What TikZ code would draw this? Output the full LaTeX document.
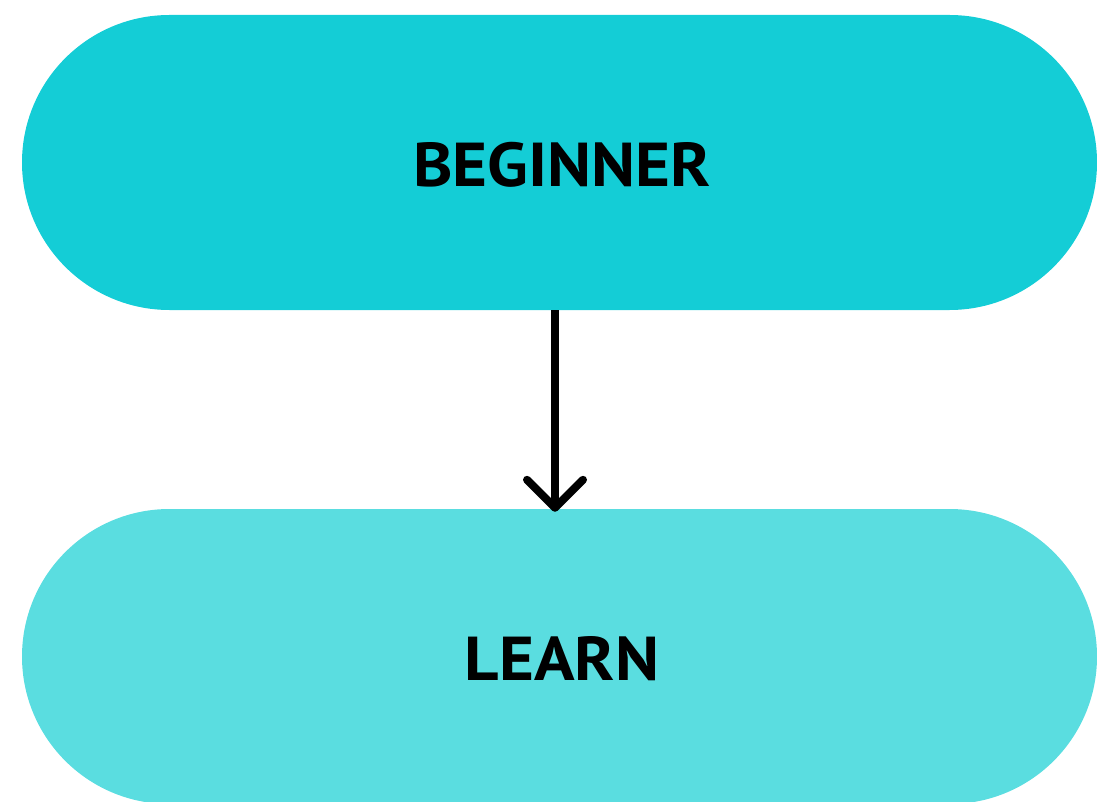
\documentclass[tikz,border=0pt]{standalone}
\usepackage{fontspec}
\setmainfont{PT Sans}
\usetikzlibrary{arrows.meta,positioning}
\definecolor{tealtop}{RGB}{20,205,214}
\definecolor{tealbot}{RGB}{90,221,224}

\begin{document}
\begin{tikzpicture}[x=1pt,y=-1pt,
    pill/.style={rectangle,rounded corners=147.5pt,minimum width=1075pt,minimum height=295pt,
                 inner sep=0pt,font=\fontsize{62}{62}\selectfont\bfseries,text depth=0pt},
    flow/.style={line width=8pt,
                 -{Straight Barb[length=28pt,width=56pt,line cap=round,line join=round]}}]
    \useasboundingbox (0,0) rectangle (1097,802);
    \clip (0,0) rectangle (1097,802);
    \node[pill,fill=tealtop] (beginner) at (559.5,162.5) {\hspace{5pt}\raisebox{-4pt}{\scalebox{1.08}[1]{BEGINNER}}} ;
    \node[pill,fill=tealbot] (learn) at (559.5,656.5) {\hspace{5pt}\raisebox{-4pt}{\scalebox{1.08}[1]{LEARN}}} ;
    \draw[flow] ([xshift=-4.5pt]beginner.south) -- ([xshift=-4.5pt,yshift=-3pt]learn.north) ;
\end{tikzpicture}
\end{document}
